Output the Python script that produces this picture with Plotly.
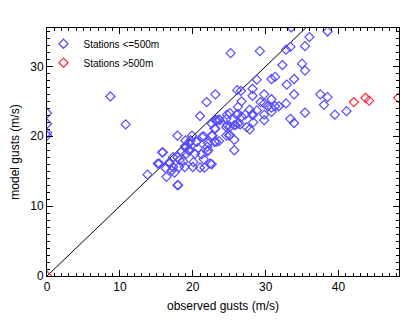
import plotly.graph_objects as go

# Stations <= 500 m : observed gusts (x), model gusts (y)
low_obs = [0.0, 0.0, 0.0, 0.0, 8.7, 10.8,
           13.8, 15.2, 15.4, 15.8, 15.9, 16.3, 16.4, 16.8, 16.8, 17.1, 17.3, 17.3, 17.5, 17.9,
           17.9, 17.9, 18.0, 18.1, 18.2, 18.5, 18.7, 18.9, 18.9, 19.0, 19.1, 19.1, 19.4, 19.5,
           19.6, 19.7, 19.9, 20.0, 20.1, 20.3, 20.5, 20.5, 20.7, 21.0, 21.0, 21.2, 21.3, 21.5,
           21.5, 21.6, 21.9, 22.0, 22.0, 22.1, 22.1, 22.4, 22.6, 22.6, 22.6, 22.7, 23.0, 23.0,
           23.1, 23.1, 23.1, 23.2, 23.3, 23.6, 23.6, 23.7, 24.6, 24.6, 24.6, 24.7, 24.7, 25.0,
           25.1, 25.1, 25.1, 25.2, 25.7, 25.7, 25.7, 25.8, 26.0, 26.1, 26.2, 26.2, 26.2, 26.5,
           26.6, 26.7, 26.7, 27.2, 27.4, 27.8, 27.8, 28.2, 28.2, 28.2, 28.2, 28.3, 28.8, 28.8,
           29.2, 29.3, 29.8, 29.8, 29.8, 29.8, 30.3, 30.8, 30.8, 30.8, 30.8, 31.3, 31.3, 31.8,
           32.3, 32.8, 32.8, 32.9, 33.4, 33.4, 33.5, 33.9, 33.9, 33.9, 35.0, 35.4, 35.4, 35.4,
           36.0, 37.5, 38.0, 38.5, 38.5, 39.5, 41.1]
low_mod = [23.3, 21.8, 20.5, 20.1, 25.7, 21.7,
           14.5, 16.1, 16.1, 17.7, 17.7, 15.4, 14.2, 16.1, 16.3, 15.1, 15.6, 17.0, 14.8, 13.0,
           17.0, 20.1, 13.0, 15.6, 16.6, 17.8, 16.4, 15.6, 18.5, 19.4, 17.5, 18.5, 18.0, 19.0,
           18.0, 19.4, 20.1, 15.6, 16.3, 17.5, 19.2, 19.2, 18.3, 15.5, 22.9, 17.4, 19.9, 16.7,
           20.0, 15.5, 24.9, 18.5, 17.8, 18.0, 19.0, 16.1, 16.0, 20.1, 21.8, 20.1, 19.2, 21.1,
           22.3, 21.1, 26.0, 19.2, 22.3, 19.3, 22.4, 22.3, 20.1, 21.3, 22.5, 23.1, 21.6, 20.1,
           20.2, 21.4, 23.3, 31.9, 21.6, 19.5, 18.0, 21.6, 23.1, 26.6, 24.2, 23.2, 21.8, 21.7,
           26.5, 25.0, 22.8, 23.1, 21.3, 21.0, 23.8, 23.2, 23.0, 26.8, 25.8, 22.0, 23.7, 28.1,
           32.2, 24.9, 24.7, 23.1, 22.3, 26.0, 24.3, 25.3, 24.1, 23.5, 28.2, 24.3, 28.5, 24.3,
           30.2, 24.7, 32.4, 27.4, 22.5, 32.8, 35.6, 21.9, 28.2, 26.0, 30.4, 32.9, 29.4, 23.4,
           34.2, 26.0, 24.5, 35.0, 25.6, 23.1, 23.6]

# Stations > 500 m
high_obs = [0.0, 42.1, 43.7, 44.2, 48.2]
high_mod = [0.0, 24.9, 25.5, 25.1, 25.5]

line_x = [0, 50]
line_y = [0, 50]

x_range = [0, 48.3]
y_range = [0, 35.5]

blue = "rgb(85,75,255)"
red = "rgb(255,45,70)"

fig = go.Figure()
fig.add_trace(go.Scatter(x=line_x, y=line_y, mode="lines",
                         line=dict(color="black", width=1), showlegend=False,
                         hoverinfo="skip"))
fig.add_trace(go.Scatter(x=low_obs, y=low_mod, mode="markers", name="Stations <=500m",
                         marker=dict(symbol="diamond-open", size=7, color=blue,
                                     line=dict(width=1.2, color=blue))))
fig.add_trace(go.Scatter(x=high_obs, y=high_mod, mode="markers", name="Stations >500m",
                         marker=dict(symbol="diamond-open", size=7, color=red,
                                     line=dict(width=1.2, color=red))))

axis_common = dict(
    showgrid=False, zeroline=False, showline=True, linecolor="black", linewidth=1,
    mirror="ticks", ticks="inside", ticklen=6, tickcolor="black", tickwidth=1,
    tickfont=dict(family="Liberation Sans, Arial, sans-serif", size=12, color="black"),
    minor=dict(dtick=1, ticks="inside", ticklen=3, tickcolor="black", tickwidth=1),
)

fig.update_layout(
    width=412, height=332,
    margin=dict(l=47, r=13, t=28, b=56),
    paper_bgcolor="white", plot_bgcolor="white",
    font=dict(family="Liberation Sans, Arial, sans-serif", color="black"),
    xaxis=dict(range=x_range, tick0=0, dtick=10,
               title=dict(text="observed gusts (m/s)", font=dict(size=12), standoff=8),
               **axis_common),
    yaxis=dict(range=y_range, tick0=0, dtick=10,
               title=dict(text="model gusts (m/s)", font=dict(size=12), standoff=8),
               **axis_common),
    legend=dict(x=-0.01, y=0.995, xanchor="left", yanchor="top",
                bgcolor="rgba(0,0,0,0)", font=dict(size=10),
                itemwidth=30, tracegroupgap=0),
    showlegend=True,
)

fig.write_html("out.html")
